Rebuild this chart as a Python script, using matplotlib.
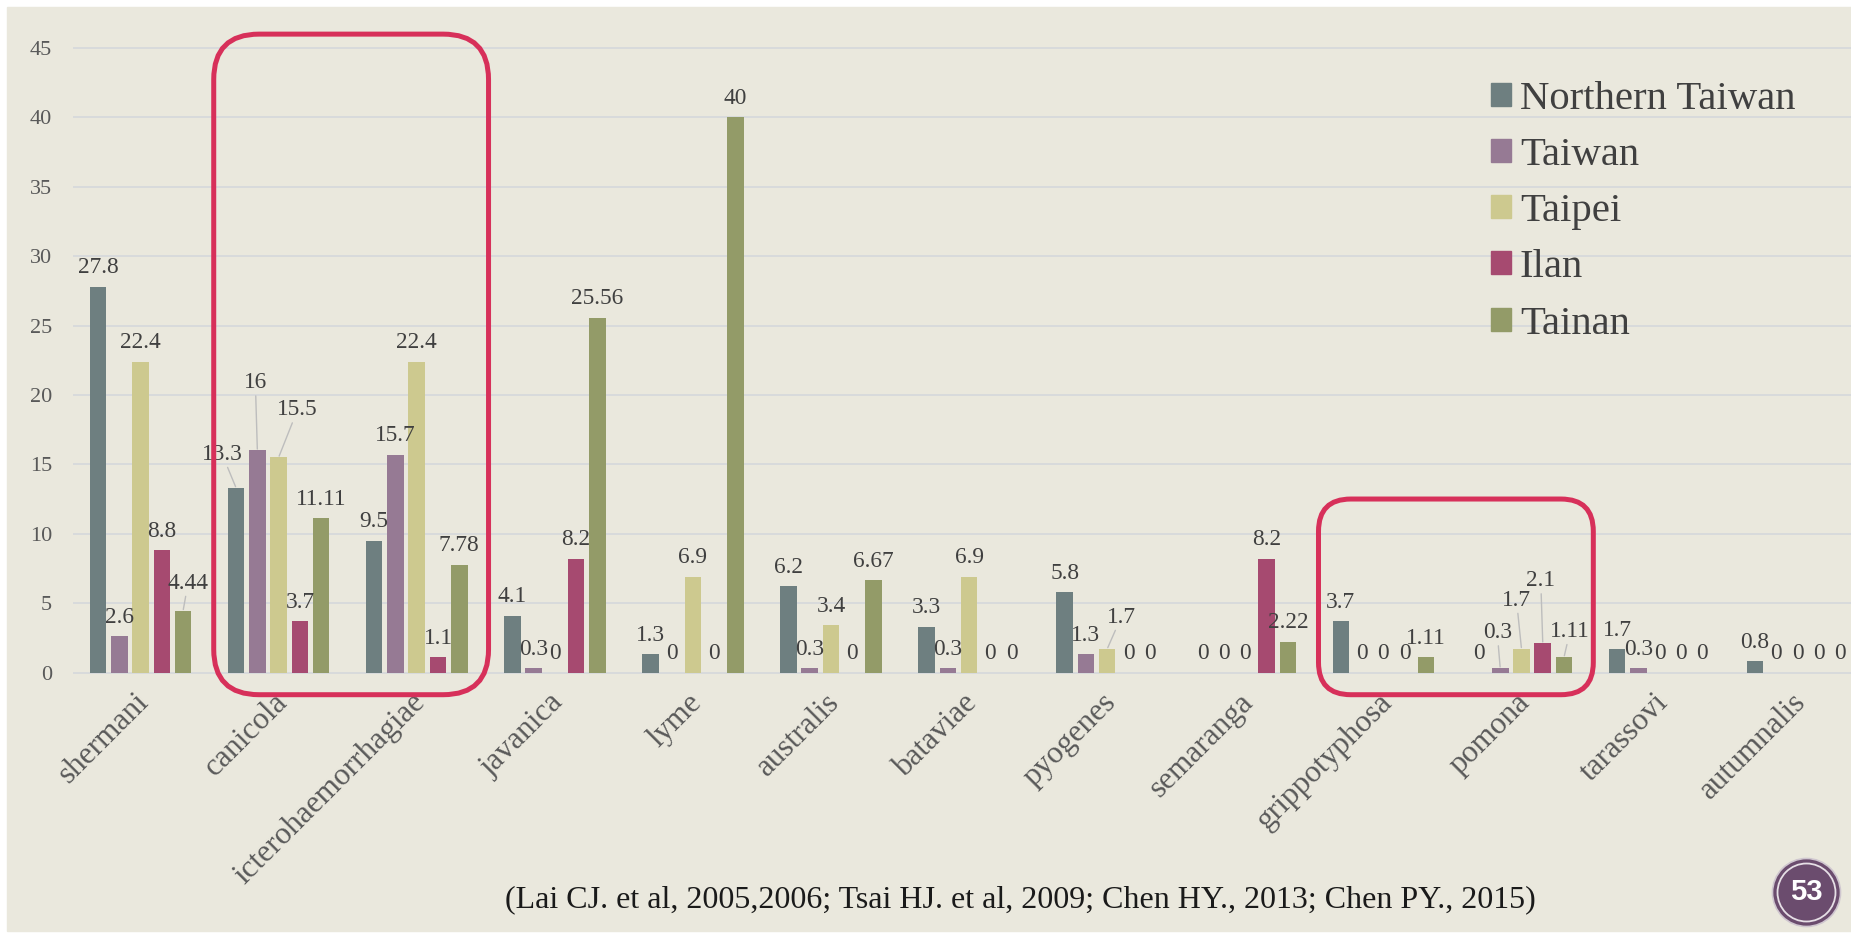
import numpy as np
import matplotlib.pyplot as plt
from matplotlib.patches import FancyBboxPatch, Patch, Circle, Rectangle
from matplotlib.transforms import IdentityTransform, ScaledTranslation

# ---- data ----
categories = ["shermani", "canicola", "icterohaemorrhagiae", "javanica", "lyme",
              "australis", "bataviae", "pyogenes", "semaranga", "grippotyphosa",
              "pomona", "tarassovi", "autumnalis"]
series_names = ["Northern Taiwan", "Taiwan", "Taipei", "Ilan", "Tainan"]
northern_taiwan = [27.8, 13.3, 9.5, 4.1, 1.3, 6.2, 3.3, 5.8, 0, 3.7, 0, 1.7, 0.8]
taiwan = [2.6, 16, 15.7, 0.3, 0, 0.3, 0.3, 1.3, 0, 0, 0.3, 0.3, 0]
taipei = [22.4, 15.5, 22.4, 0, 6.9, 3.4, 6.9, 1.7, 0, 0, 1.7, 0, 0]
ilan = [8.8, 3.7, 1.1, 8.2, 0, 0, 0, 0, 8.2, 0, 2.1, 0, 0]
tainan = [4.44, 11.11, 7.78, 25.56, 40, 6.67, 0, 0, 2.22, 1.11, 1.11, 0, 0]
yticks = list(range(0, 50, 5))
citation = "(Lai CJ. et al, 2005,2006; Tsai HJ. et al, 2009; Chen HY., 2013; Chen PY., 2015)"
page_number = "53"

series = [northern_taiwan, taiwan, taipei, ilan, tainan]
colors = ["#6E7F80", "#967A94", "#CDC98F", "#A64A70", "#939B68"]
bg = "#EAE8DD"
serif = "Liberation Serif"
W, H = 1851, 934

fig = plt.figure(figsize=(W / 100, H / 100), dpi=100)
fig.patch.set_facecolor("white")
fig.add_artist(Rectangle((7 / W, 3 / H), 1 - 7 / W, 1 - 10 / H,
                         transform=fig.transFigure, color=bg, zorder=0))

# axes placed in pixels: x from 73 to 1851, y=0 at 672.5 px, 13.88 px per unit
ppu = 624.5 / 45
ylo, yhi = -0.3, 45.3
ax_bottom = 672.5 - ylo * ppu
ax_top = 672.5 - yhi * ppu
ax = fig.add_axes([73 / W, (H - ax_bottom) / H, (W - 73) / W, (ax_bottom - ax_top) / H])
ax.set_facecolor("none")

x = np.arange(len(categories))
step = 0.154
bw = 0.12
for s, vals in enumerate(series):
    ax.bar(x + (s - 2) * step, vals, width=bw, color=colors[s], zorder=2)

ax.set_xlim(-0.489, 12.386)
ax.set_ylim(ylo, yhi)
ax.set_yticks(yticks)
ax.yaxis.grid(True, color="#D8DADB", lw=1.4)
ax.set_axisbelow(True)
for sp in ax.spines.values():
    sp.set_visible(False)
ax.tick_params(length=0)
ax.tick_params(axis="y", pad=15, labelsize=16, labelcolor="#595959")
for t in ax.get_yticklabels():
    t.set_family(serif)

ax.set_xticks(x)
ax.set_xticklabels(categories, rotation=45, ha="right", va="top",
                   rotation_mode="anchor", fontsize=22.5, family=serif, color="#595959")
ax.tick_params(axis="x", pad=8)
shift = ScaledTranslation(-6 / 100, 0, fig.dpi_scale_trans)
for t in ax.get_xticklabels():
    t.set_transform(t.get_transform() + shift)

# data labels; a few were dragged off their bars in the slide (px offsets)
nudge = {(0, 4): (5, 9), (1, 0): (-14, 15), (1, 1): (-2, 49), (1, 2): (19, 29),
         (7, 2): (14, 13), (10, 1): (-3, 17), (10, 2): (-5, 30), (10, 3): (-2, 44),
         (10, 4): (6, 7)}
for s, vals in enumerate(series):
    for i, v in enumerate(vals):
        dx, dy = nudge.get((i, s), (0, 0))
        kw = {}
        if (i, s) in nudge:
            kw["arrowprops"] = dict(arrowstyle="-", color="#BDBDBD", lw=1.0,
                                    shrinkA=0, shrinkB=1)
        ax.annotate(f"{v:g}", xy=(i + (s - 2) * step, v),
                    xytext=(dx * 0.72, 6 + dy * 0.72), textcoords="offset points",
                    ha="center", va="bottom", fontsize=16.8, family=serif,
                    color="#404040", zorder=4, **kw)

# red rounded highlight boxes
for first, last, top in [(1, 2, 46.0), (9, 10, 12.5)]:
    x0, y0 = ax.transData.transform((first - 0.47, -1.6))
    x1, y1 = ax.transData.transform((last + 0.52, top))
    r = 0.165 * min(x1 - x0, y1 - y0)
    fig.add_artist(FancyBboxPatch((x0, y0), x1 - x0, y1 - y0,
                                  boxstyle=f"round,pad=0,rounding_size={r}",
                                  transform=IdentityTransform(), fill=False,
                                  edgecolor="#D7305A", lw=3.6, zorder=5))

handles = [Patch(color=c) for c in colors]
fig.legend(handles, series_names, loc="upper left",
           bbox_to_anchor=(1491 / W, 1 - 81 / H), frameon=False,
           prop={"family": serif, "size": 29.3}, labelcolor="#404040",
           handlelength=0.49, handleheight=0.49, handletextpad=0.22,
           labelspacing=0.47, borderpad=0, borderaxespad=0)

fig.text(1020 / W, 1 - 900 / H, citation, ha="center", va="center",
         fontsize=23, family=serif, color="#1A1A1A")

# page badge
cx, cy = 1806.5, H - 892.5
fig.add_artist(Circle((cx, cy), 34, transform=IdentityTransform(),
                      facecolor="#6B4C6E", edgecolor="#CFC6CF", lw=1.2, zorder=5))
fig.add_artist(Circle((cx, cy), 29, transform=IdentityTransform(),
                      fill=False, edgecolor="#E6DFE6", lw=1.3, zorder=6))
fig.text(cx / W, cy / H, page_number, ha="center", va="center", fontsize=21,
         family="Liberation Sans", weight="bold", color="white", zorder=7)

fig.savefig("out.png", dpi=100, facecolor=fig.get_facecolor())
